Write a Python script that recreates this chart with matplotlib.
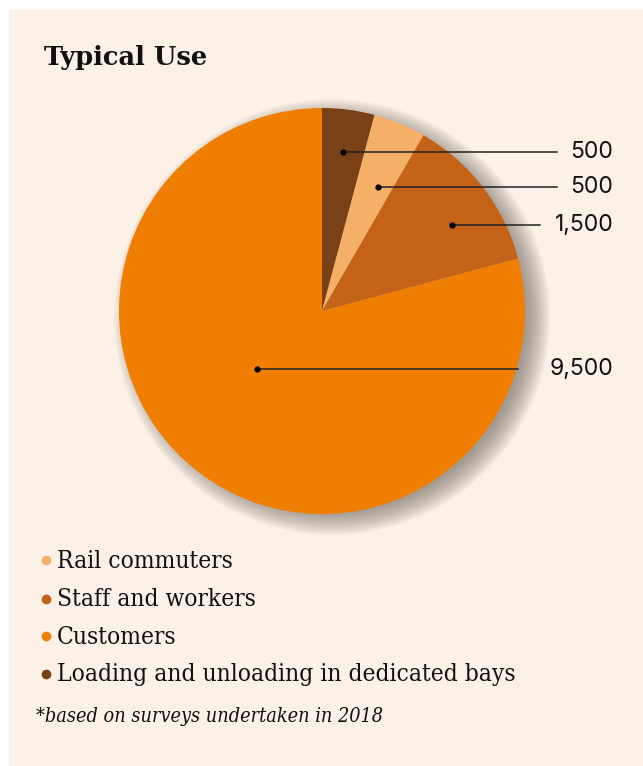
import matplotlib.pyplot as plt
from matplotlib.patches import Rectangle, Circle
import numpy as np

# Typical use of the car park (surveys 2018)
categories = ['Loading and unloading in dedicated bays', 'Rail commuters',
              'Staff and workers', 'Customers']
values = [500, 500, 1500, 9500]
labels = ['500', '500', '1,500', '9,500']
colors = ['#7B4116', '#F5B068', '#C46218', '#F07E00']
legend_order = [1, 2, 3, 0]

bg = '#FCF1E7'
W, H = 643, 766

fig = plt.figure(figsize=(W / 100, H / 100), dpi=100, facecolor='white')
base = fig.add_axes([0, 0, 1, 1])
base.set_xlim(0, W)
base.set_ylim(H, 0)
base.axis('off')
base.add_patch(Rectangle((9, 10), W - 9, H - 10, color=bg, zorder=0))

base.text(44, 57, 'Typical Use', fontsize=18.5, fontweight='bold',
          family='DejaVu Serif', va='center', ha='left', color='#111111')

# pie axes: centre (322, 311) px, radius 203 px
cx, cy, R = 322, 311, 203
ax = fig.add_axes([(cx - R) / W, (H - cy - R) / H, 2 * R / W, 2 * R / H])
ax.axis('off')

# soft shadow, offset to lower right
for k in range(20):
    ax.add_patch(Circle((0.05, -0.03), 0.96 + k * 0.006, color='#5e554d',
                        alpha=0.035, lw=0, zorder=0, clip_on=False))

wedges, _ = ax.pie(values, colors=colors, startangle=90, counterclock=False,
                   radius=1, wedgeprops=dict(linewidth=0))
for w in wedges:
    w.set_zorder(2)
ax.set_xlim(-1, 1)
ax.set_ylim(-1, 1)
ax.set_aspect('equal')

# leader lines: (radius fraction, angle offset from mid, line end x)
leader = [(0.79, 0, 1.158), (0.67, -2, 1.158), (0.77, -4, 1.074), (0.43, -11, 0.966)]
for w, lab, (rf, da, xe) in zip(wedges, labels, leader):
    mid = np.deg2rad((w.theta1 + w.theta2) / 2 + da)
    px, py = rf * np.cos(mid), rf * np.sin(mid)
    ax.plot([px, xe], [py, py], color='#222222', lw=1.1, zorder=3, clip_on=False)
    ax.plot(px, py, 'o', color='black', ms=3.5, zorder=4, clip_on=False)
    ax.text(1.435, py, lab, ha='right', va='center', fontsize=16.5,
            family='Inter', color='#111111', clip_on=False)

# legend
ys = [561, 600, 637, 675]
for y, i in zip(ys, legend_order):
    base.plot(46, y - 1, 'o', ms=7, color=colors[i], mec='none')
    base.text(57, y, categories[i], fontsize=17.6, family='DejaVu Serif',
              fontstretch='condensed', va='center', ha='left', color='#111111')

base.text(36, 717, '*based on surveys undertaken in 2018', fontsize=14.2,
          family='DejaVu Serif', fontstretch='condensed', style='italic',
          va='center', ha='left', color='#111111')

fig.savefig('out.png', dpi=100, facecolor='white')
